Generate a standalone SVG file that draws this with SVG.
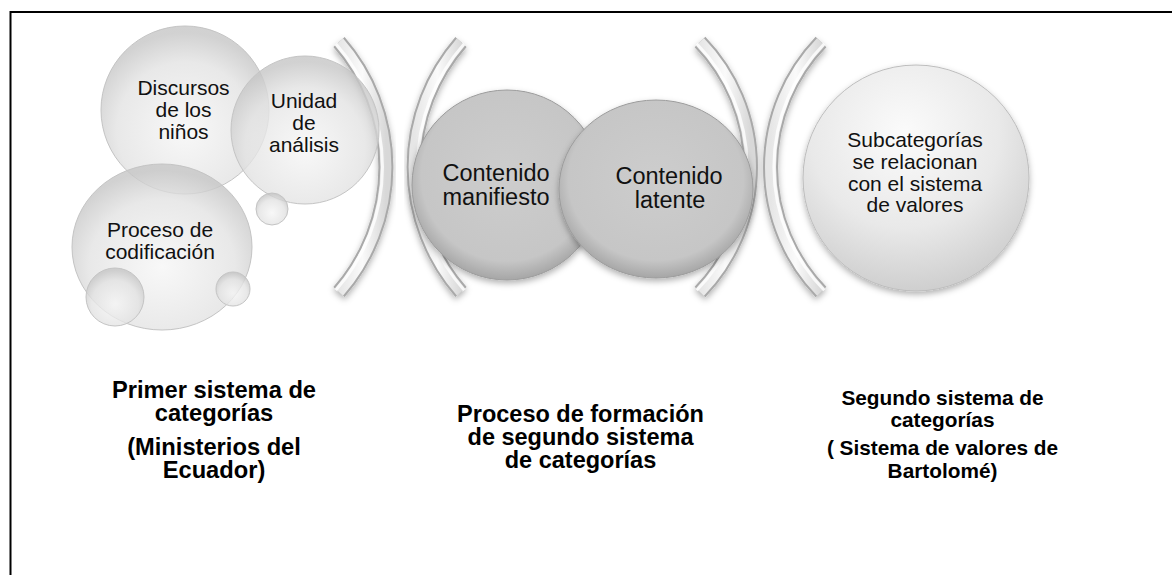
<svg xmlns="http://www.w3.org/2000/svg" width="1172" height="575" viewBox="0 0 1172 575">
<style>
.t{font-family:"Liberation Sans",Arial,sans-serif;fill:#111;text-anchor:middle}
.s21{font-size:21px}
.s23{font-size:23.5px}
.b{font-weight:bold;fill:#000}
.bub{fill:url(#gBub);stroke:#c4c4c4;stroke-width:1}
.mid{fill:url(#gMid);stroke:#9c9c9c;stroke-width:1;filter:url(#sh)}
.brO{fill:none;stroke:#a9a9a9;stroke-width:15}
.brI{fill:none;stroke:url(#gBr);stroke-width:11}
.brH{fill:none;stroke:#ffffff;stroke-width:3}
</style>
<defs>
<radialGradient id="gBub" cx="50%" cy="62%" r="58%">
<stop offset="0" stop-color="#f6f6f6" stop-opacity="0.78"/>
<stop offset="0.7" stop-color="#e2e2e2" stop-opacity="0.78"/>
<stop offset="1" stop-color="#c6c6c6" stop-opacity="0.8"/>
</radialGradient>
<radialGradient id="gMid" cx="50%" cy="45%" r="55%">
<stop offset="0" stop-color="#cdcdcd"/>
<stop offset="0.82" stop-color="#c6c6c6"/>
<stop offset="1" stop-color="#a6a6a6"/>
</radialGradient>
<radialGradient id="gSub" cx="45%" cy="30%" r="70%">
<stop offset="0" stop-color="#fbfbfb"/>
<stop offset="0.6" stop-color="#e9e9e9"/>
<stop offset="1" stop-color="#cfcfcf"/>
</radialGradient>
<linearGradient id="gBr" x1="0" y1="0" x2="1" y2="0">
<stop offset="0" stop-color="#e6e6e6"/>
<stop offset="0.5" stop-color="#fafafa"/>
<stop offset="1" stop-color="#d8d8d8"/>
</linearGradient>
<filter id="sh" x="-20%" y="-20%" width="140%" height="150%">
<feDropShadow dx="0" dy="3" stdDeviation="3" flood-color="#000" flood-opacity="0.3"/>
</filter>
</defs>
<rect width="1172" height="575" fill="#fff"/>
<path d="M10.5 575 V12 H1172" fill="none" stroke="#000" stroke-width="2"/>

<g id="connectors">
<g id="bracket1" filter="url(#sh)">
<path class="brO" d="M339 42 A190 190 0 0 1 339 292"/>
<path class="brI" d="M339 42 A190 190 0 0 1 339 292"/>
<path class="brH" d="M336 44 A186 186 0 0 1 336 290" opacity="0.8"/>
</g>
<g id="bracket2" filter="url(#sh)">
<path class="brO" d="M461 42 A190 190 0 0 0 461 292"/>
<path class="brI" d="M461 42 A190 190 0 0 0 461 292"/>
<path class="brH" d="M464 44 A186 186 0 0 0 464 290" opacity="0.8"/>
</g>
<g id="bracket3" filter="url(#sh)">
<path class="brO" d="M700 42 A180 180 0 0 1 700 292"/>
<path class="brI" d="M700 42 A180 180 0 0 1 700 292"/>
<path class="brH" d="M697 44 A176 176 0 0 1 697 290" opacity="0.8"/>
</g>
<g id="bracket4" filter="url(#sh)">
<path class="brO" d="M821 42 A180 180 0 0 0 821 292"/>
<path class="brI" d="M821 42 A180 180 0 0 0 821 292"/>
<path class="brH" d="M824 44 A176 176 0 0 0 824 290" opacity="0.8"/>
</g>
</g>

<g id="node-discursos">
<circle class="bub" cx="185" cy="110" r="84"/>
<text class="t s21" x="183.5" y="95">Discursos</text>
<text class="t s21" x="183.5" y="117">de los</text>
<text class="t s21" x="183.5" y="139">niños</text>
</g>
<g id="node-unidad">
<circle class="bub" cx="305" cy="130" r="74"/>
<text class="t s21" x="304" y="108">Unidad</text>
<text class="t s21" x="304" y="130">de</text>
<text class="t s21" x="304" y="152">análisis</text>
</g>
<g id="node-bubble-small1">
<circle class="bub" cx="272" cy="209" r="16"/>
</g>
<g id="node-proceso">
<ellipse class="bub" cx="162" cy="247" rx="90" ry="83"/>
<text class="t s21" x="160" y="237">Proceso de</text>
<text class="t s21" x="160" y="259">codificación</text>
</g>
<g id="node-bubble-small2">
<circle class="bub" cx="115" cy="297" r="29"/>
</g>
<g id="node-bubble-small3">
<circle class="bub" cx="233" cy="289" r="17"/>
</g>

<g id="node-manifiesto">
<ellipse class="mid" cx="507" cy="185" rx="95" ry="95"/>
<text class="t s23" x="496" y="181">Contenido</text>
<text class="t s23" x="496" y="205">manifiesto</text>
</g>
<g id="node-latente">
<ellipse class="mid" cx="656" cy="189" rx="97" ry="89"/>
<text class="t s23" x="669" y="183.5">Contenido</text>
<text class="t s23" x="670" y="207.5">latente</text>
</g>

<g id="node-subcategorias">
<circle cx="916" cy="178" r="113" fill="url(#gSub)" stroke="#bdbdbd" stroke-width="1" filter="url(#sh)"/>
<text class="t s21" x="915" y="146.5">Subcategorías</text>
<text class="t s21" x="915" y="168.5">se relacionan</text>
<text class="t s21" x="915" y="190.5">con el sistema</text>
<text class="t s21" x="915" y="212">de valores</text>
</g>

<g id="label-primer">
<text class="t b" style="font-size:23.7px" x="214" y="398">Primer sistema de</text>
<text class="t b" style="font-size:23.7px" x="214" y="421">categorías</text>
<text class="t b" style="font-size:23.7px" x="214" y="455">(Ministerios del</text>
<text class="t b" style="font-size:23.7px" x="214" y="478">Ecuador)</text>
</g>
<g id="label-proceso">
<text class="t b" style="font-size:23.5px" x="580.5" y="421.7">Proceso de formación</text>
<text class="t b" style="font-size:23.5px" x="580.5" y="445">de segundo sistema</text>
<text class="t b" style="font-size:23.5px" x="580.5" y="467.5">de categorías</text>
</g>
<g id="label-segundo">
<text class="t b" style="font-size:20.8px" x="942.5" y="405">Segundo sistema de</text>
<text class="t b" style="font-size:20.8px" x="942.5" y="426.5">categorías</text>
<text class="t b" style="font-size:20.8px" x="942.5" y="455">( Sistema de valores de</text>
<text class="t b" style="font-size:20.8px" x="942.5" y="478">Bartolomé)</text>
</g>
</svg>
